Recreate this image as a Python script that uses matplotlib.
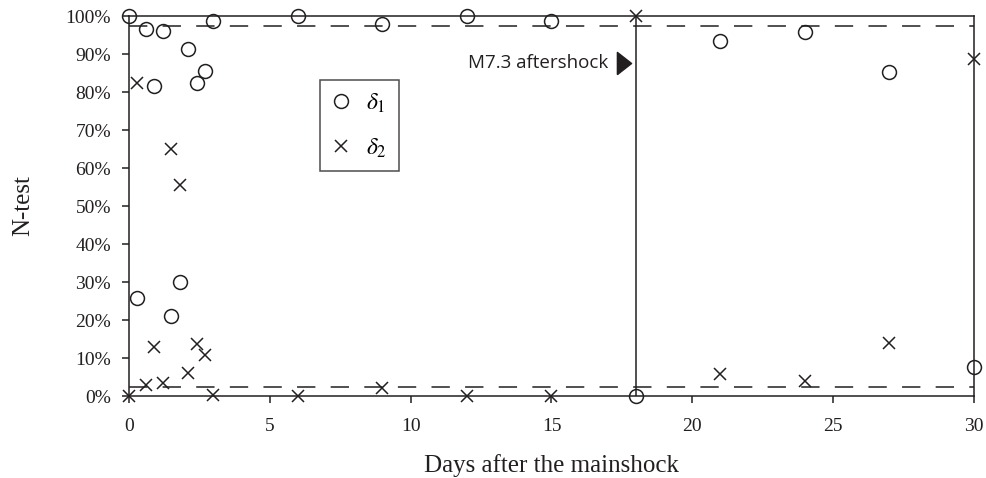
import numpy as np
import matplotlib.pyplot as plt
from matplotlib.ticker import PercentFormatter

# -------------------------------
# Datos
# -------------------------------
dias = [0, 0.3, 0.6, 0.9, 1.2, 1.5, 1.8, 2.1, 2.4, 2.7, 3,
        6, 9, 12, 15, 18, 21, 24, 27, 30]

delta1 = [100, 25.8, 96.6, 81.5, 96.0, 21.0, 30.0, 91.3, 82.4, 85.6, 98.7,
          100, 97.8, 100, 98.8, 0, 93.5, 95.9, 85.3, 7.6]

delta2 = [0, 82.4, 2.9, 12.9, 3.4, 65.0, 55.5, 6.0, 13.6, 10.8, 0.3,
          0, 2.0, 0, 0, 100, 5.8, 3.9, 14.0, 88.8]

limite_inf = 2.5
limite_sup = 97.5
dia_replica = 18

x_ticks = [0, 5, 10, 15, 20, 25, 30]
y_ticks = [0, 10, 20, 30, 40, 50, 60, 70, 80, 90, 100]

# -------------------------------
# Figura
# -------------------------------
plt.rcParams['font.family'] = ['Liberation Serif', 'DejaVu Serif']
plt.rcParams['mathtext.fontset'] = 'stix'

fig = plt.figure(figsize=(9.87, 4.78), dpi=100)
ax = fig.add_axes([0.1307, 0.1715, 0.8561, 0.795])

color = '#231f20'

ax.plot(dias, delta1, linestyle='none', marker='o', markersize=10,
        markerfacecolor='none', markeredgecolor=color, markeredgewidth=1.1,
        clip_on=False, zorder=4, label=r'$\delta_1$')
ax.plot(dias, delta2, linestyle='none', marker='x', markersize=9,
        color=color, markeredgewidth=1.1,
        clip_on=False, zorder=4, label=r'$\delta_2$')

# líneas de límites
ax.axhline(limite_sup, color=color, linestyle=(0, (12, 10)), linewidth=1.1)
ax.axhline(limite_inf, color=color, linestyle=(0, (12, 10)), linewidth=1.1)
ax.axvline(dia_replica, color=color, linewidth=1.1)

# anotación de la réplica
ax.text(dia_replica - 0.97, 87.6, 'M7.3 aftershock', ha='right', va='center',
        fontsize=13.5, family=['Open Sans', 'DejaVu Sans'], color=color)
flecha = [(-0.32, -0.5), (0.32, 0.0), (-0.32, 0.5), (-0.32, -0.5)]
ax.plot(dia_replica - 0.43, 87.6, marker=flecha, markersize=16,
        color=color, linestyle='none')

ax.set_xlim(0, 30)
ax.set_ylim(0, 100)
ax.set_xticks(x_ticks)
ax.set_yticks(y_ticks)
ax.yaxis.set_major_formatter(PercentFormatter(decimals=0))

for s in ax.spines.values():
    s.set_color(color)
    s.set_linewidth(1.1)

ax.tick_params(direction='out', length=5, width=1.1, colors=color,
               labelsize=14, labelcolor=color)
ax.tick_params(axis='y', pad=8)
ax.tick_params(axis='x', pad=10.5)

ax.set_xlabel('Days after the mainshock', fontsize=18, color=color)
ax.set_ylabel('N-test', fontsize=18, color=color)
ax.xaxis.set_label_coords(0.5, -0.152)
ax.yaxis.set_label_coords(-0.112, 0.5)

leg = ax.legend(loc='upper left', bbox_to_anchor=(0.226, 0.832),
                fontsize=17, frameon=True, fancybox=False,
                handletextpad=0.65, borderpad=0.5, labelspacing=0.9,
                handlelength=0.8, borderaxespad=0)
leg.get_frame().set_edgecolor(color)
leg.get_frame().set_linewidth(1.1)

fig.savefig('out.png', dpi=100)
